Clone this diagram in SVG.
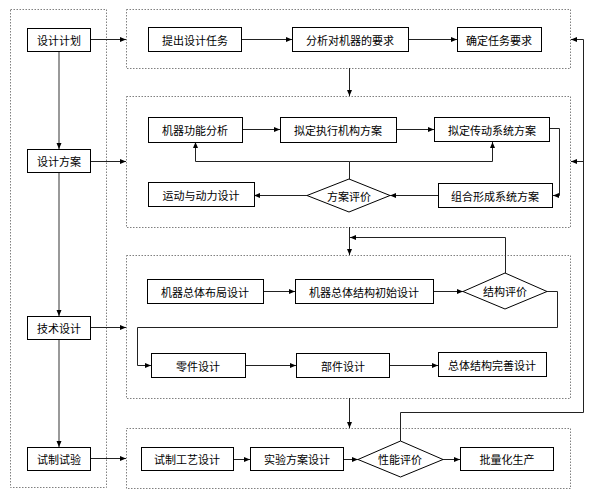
<svg xmlns="http://www.w3.org/2000/svg" width="592" height="496" viewBox="0 0 592 496">
<style>
.frame{fill:none;stroke:#808080;stroke-width:1;stroke-dasharray:1.5,1.5}
.box{fill:#fff;stroke:#000;stroke-width:1}
.t{font-family:"Noto Sans CJK SC","Noto Sans",sans-serif;font-size:11px;fill:#000;text-anchor:middle;dominant-baseline:central}
.c{fill:none;stroke:#222;stroke-width:1}
.g{fill:none;stroke:#777;stroke-width:1.5}
</style>
<defs>
<marker id="a" markerWidth="6" markerHeight="6" refX="6" refY="3" orient="auto" markerUnits="userSpaceOnUse"><path d="M0,0.5 L6,3 L0,5.5z" fill="#000"/></marker>
</defs>
<rect width="592" height="496" fill="#fff"/>
<g id="frames">
<rect class="frame" x="10.5" y="9.5" width="96" height="478"/>
<rect class="frame" x="126.5" y="9.5" width="444" height="59"/>
<rect class="frame" x="126.5" y="96.5" width="444" height="131"/>
<rect class="frame" x="126.5" y="255.5" width="444" height="143"/>
<rect class="frame" x="126.5" y="428.5" width="444" height="60"/>
</g>
<g id="connectors">
<path class="g" d="M59,51 V149" marker-end="url(#a)"/>
<path class="g" d="M59,172 V316" marker-end="url(#a)"/>
<path class="g" d="M59,339 V447" marker-end="url(#a)"/>
<path class="c" d="M90,39.5 H126" marker-end="url(#a)"/>
<path class="c" d="M241,39.5 H292" marker-end="url(#a)"/>
<path class="c" d="M408,39.5 H457" marker-end="url(#a)"/>
<path class="c" d="M349.5,68 V96" marker-end="url(#a)"/>
<path class="c" d="M90,161.5 H126" marker-end="url(#a)"/>
<path class="c" d="M242,129.5 H280" marker-end="url(#a)"/>
<path class="c" d="M396,129.5 H434" marker-end="url(#a)"/>
<path class="c" d="M349.5,179 V161.5 H195.5 V142" marker-end="url(#a)"/>
<path class="c" d="M349.5,161.5 H492.5 V142" marker-end="url(#a)"/>
<path class="c" d="M549,128.5 H559.5 V195.5 H553" marker-end="url(#a)"/>
<path class="c" d="M438,195.5 H390" marker-end="url(#a)"/>
<path class="c" d="M307,195.5 H254" marker-end="url(#a)"/>
<path class="c" d="M349.5,227 V255" marker-end="url(#a)"/>
<path class="c" d="M505.5,273 V237.5 H350" marker-end="url(#a)"/>
<path class="c" d="M90,327.5 H126" marker-end="url(#a)"/>
<path class="c" d="M263,291.5 H295" marker-end="url(#a)"/>
<path class="c" d="M433,291.5 H463" marker-end="url(#a)"/>
<path class="c" d="M547,291.5 H557.5 V327.5 H137.5 V365.5 H151" marker-end="url(#a)"/>
<path class="c" d="M245,365.5 H296" marker-end="url(#a)"/>
<path class="c" d="M389,365.5 H438" marker-end="url(#a)"/>
<path class="c" d="M349.5,398 V428" marker-end="url(#a)"/>
<path class="c" d="M90,458.5 H126" marker-end="url(#a)"/>
<path class="c" d="M233,459.5 H250" marker-end="url(#a)"/>
<path class="c" d="M343,459.5 H358" marker-end="url(#a)"/>
<path class="c" d="M443,459.5 H460" marker-end="url(#a)"/>
<path class="c" d="M400.5,441 V412.5 H583.5 V39.5 H571" marker-end="url(#a)"/>
<path class="c" d="M583.5,161.5 H571" marker-end="url(#a)"/>
</g>
<g id="n1"><rect class="box" x="27.5" y="28.5" width="63" height="23"/><text class="t" x="59" y="40">设计计划</text></g>
<g id="n2"><rect class="box" x="27.5" y="149.5" width="63" height="23"/><text class="t" x="59" y="161">设计方案</text></g>
<g id="n3"><rect class="box" x="27.5" y="316.5" width="63" height="23"/><text class="t" x="59" y="328">技术设计</text></g>
<g id="n4"><rect class="box" x="27.5" y="447.5" width="63" height="23"/><text class="t" x="59" y="459">试制试验</text></g>
<g id="b1"><rect class="box" x="148.5" y="27.5" width="93" height="24"/><text class="t" x="195" y="40">提出设计任务</text></g>
<g id="b2"><rect class="box" x="292.5" y="27.5" width="116" height="24"/><text class="t" x="350" y="40">分析对机器的要求</text></g>
<g id="b3"><rect class="box" x="457.5" y="27.5" width="84" height="24"/><text class="t" x="499" y="40">确定任务要求</text></g>
<g id="c1"><rect class="box" x="148.5" y="117.5" width="94" height="25"/><text class="t" x="195" y="130">机器功能分析</text></g>
<g id="c2"><rect class="box" x="280.5" y="117.5" width="116" height="25"/><text class="t" x="338" y="130">拟定执行机构方案</text></g>
<g id="c3"><rect class="box" x="434.5" y="117.5" width="115" height="24"/><text class="t" x="492" y="130">拟定传动系统方案</text></g>
<g id="c4"><rect class="box" x="438.5" y="183.5" width="114" height="24"/><text class="t" x="495" y="196">组合形成系统方案</text></g>
<g id="c5"><polygon class="box" points="349,179 390,195.5 349,212 307,195.5"/><text class="t" x="349" y="196">方案评价</text></g>
<g id="c6"><rect class="box" x="148.5" y="182.5" width="106" height="24"/><text class="t" x="201" y="195">运动与动力设计</text></g>
<g id="d1"><rect class="box" x="147.5" y="279.5" width="116" height="24"/><text class="t" x="205" y="292">机器总体布局设计</text></g>
<g id="d2"><rect class="box" x="295.5" y="279.5" width="138" height="24"/><text class="t" x="364" y="292">机器总体结构初始设计</text></g>
<g id="d3"><polygon class="box" points="505,273 547,291.5 505,309 463,291.5"/><text class="t" x="505" y="291">结构评价</text></g>
<g id="d4"><rect class="box" x="151.5" y="353.5" width="94" height="24"/><text class="t" x="198" y="366">零件设计</text></g>
<g id="d5"><rect class="box" x="296.5" y="353.5" width="93" height="24"/><text class="t" x="343" y="366">部件设计</text></g>
<g id="d6"><rect class="box" x="438.5" y="352.5" width="108" height="24"/><text class="t" x="492" y="365">总体结构完善设计</text></g>
<g id="e1"><rect class="box" x="141.5" y="447.5" width="92" height="23"/><text class="t" x="187" y="459">试制工艺设计</text></g>
<g id="e2"><rect class="box" x="250.5" y="447.5" width="93" height="23"/><text class="t" x="297" y="459">实验方案设计</text></g>
<g id="e3"><polygon class="box" points="400.5,441 443,459.5 400.5,477 358,459.5"/><text class="t" x="400" y="459">性能评价</text></g>
<g id="e4"><rect class="box" x="460.5" y="447.5" width="93" height="23"/><text class="t" x="507" y="459">批量化生产</text></g>
</svg>
